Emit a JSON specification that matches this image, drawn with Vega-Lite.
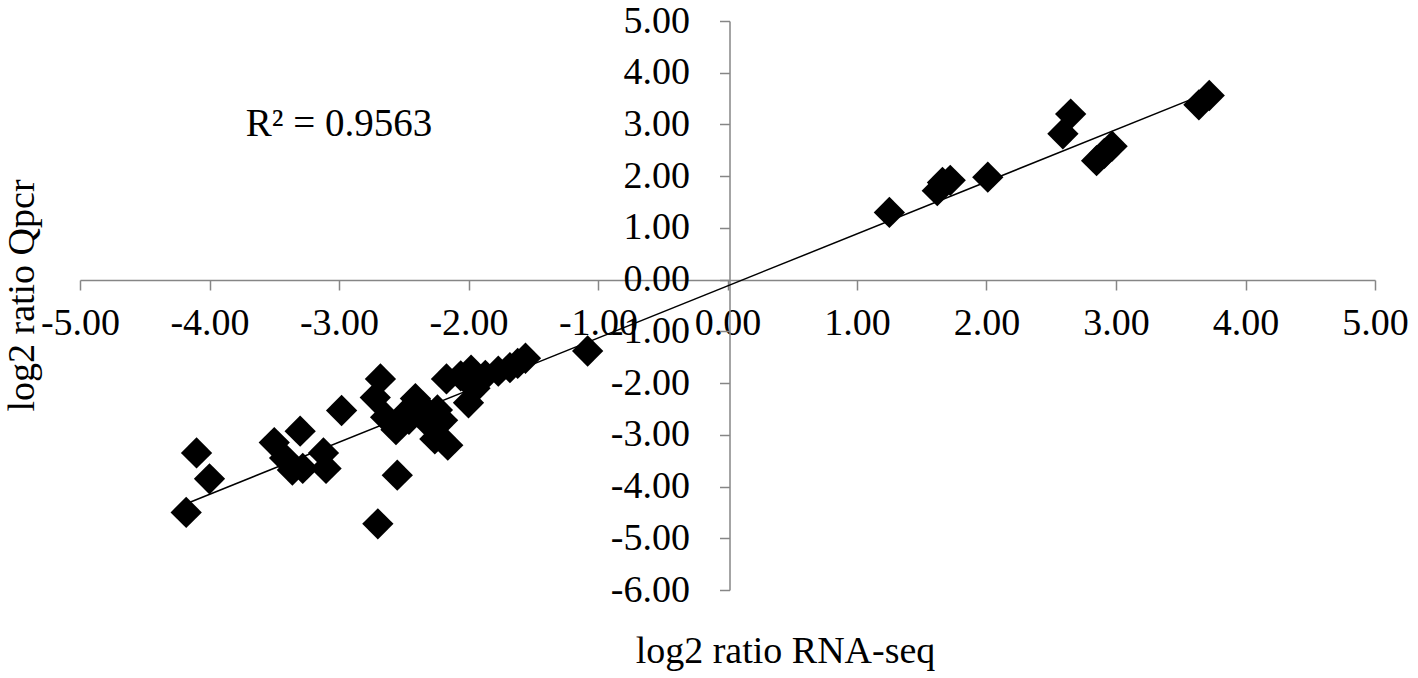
{
  "$schema": "https://vega.github.io/schema/vega-lite/v6.json",
  "width": 1295,
  "height": 569,
  "autosize": {"type": "none"},
  "padding": {"left": 80, "top": 21, "right": 43, "bottom": 88},
  "background": "white",
  "config": {"view": {"stroke": null}, "font": "Liberation Serif"},
  "data": {
    "values": [
      {"rnaseq": -4.18, "qpcr": -4.50},
      {"rnaseq": -4.10, "qpcr": -3.35},
      {"rnaseq": -4.00, "qpcr": -3.85},
      {"rnaseq": -3.50, "qpcr": -3.15},
      {"rnaseq": -3.30, "qpcr": -2.93},
      {"rnaseq": -3.42, "qpcr": -3.45},
      {"rnaseq": -3.36, "qpcr": -3.68},
      {"rnaseq": -3.28, "qpcr": -3.65},
      {"rnaseq": -3.12, "qpcr": -3.35},
      {"rnaseq": -3.10, "qpcr": -3.65},
      {"rnaseq": -2.98, "qpcr": -2.53},
      {"rnaseq": -2.70, "qpcr": -4.72},
      {"rnaseq": -2.68, "qpcr": -1.92},
      {"rnaseq": -2.72, "qpcr": -2.28},
      {"rnaseq": -2.64, "qpcr": -2.66},
      {"rnaseq": -2.56, "qpcr": -2.90},
      {"rnaseq": -2.55, "qpcr": -3.78},
      {"rnaseq": -2.50, "qpcr": -2.62},
      {"rnaseq": -2.46, "qpcr": -2.70},
      {"rnaseq": -2.41, "qpcr": -2.30},
      {"rnaseq": -2.36, "qpcr": -2.45},
      {"rnaseq": -2.34, "qpcr": -2.64},
      {"rnaseq": -2.30, "qpcr": -2.80},
      {"rnaseq": -2.24, "qpcr": -2.52},
      {"rnaseq": -2.26, "qpcr": -3.08},
      {"rnaseq": -2.16, "qpcr": -3.20},
      {"rnaseq": -2.20, "qpcr": -2.72},
      {"rnaseq": -2.17, "qpcr": -1.92},
      {"rnaseq": -2.06, "qpcr": -1.86},
      {"rnaseq": -1.98, "qpcr": -1.75},
      {"rnaseq": -2.00, "qpcr": -2.38},
      {"rnaseq": -1.95, "qpcr": -2.10},
      {"rnaseq": -1.87, "qpcr": -1.85},
      {"rnaseq": -1.77, "qpcr": -1.77},
      {"rnaseq": -1.68, "qpcr": -1.70},
      {"rnaseq": -1.62, "qpcr": -1.62},
      {"rnaseq": -1.56, "qpcr": -1.52},
      {"rnaseq": -1.08, "qpcr": -1.38},
      {"rnaseq": 1.25, "qpcr": 1.30},
      {"rnaseq": 1.62, "qpcr": 1.72},
      {"rnaseq": 1.66, "qpcr": 1.88},
      {"rnaseq": 1.72, "qpcr": 1.92},
      {"rnaseq": 2.01, "qpcr": 1.98},
      {"rnaseq": 2.59, "qpcr": 2.82},
      {"rnaseq": 2.65, "qpcr": 3.20},
      {"rnaseq": 2.85, "qpcr": 2.30},
      {"rnaseq": 2.91, "qpcr": 2.44},
      {"rnaseq": 2.97, "qpcr": 2.58},
      {"rnaseq": 3.64, "qpcr": 3.38},
      {"rnaseq": 3.72, "qpcr": 3.56}
    ]
  },
  "encoding": {
    "x": {
      "field": "rnaseq",
      "type": "quantitative",
      "scale": {"domain": [-5, 5], "nice": false, "zero": false},
      "axis": {
        "orient": "bottom",
        "offset": -310,
        "values": [-5, -4, -3, -2, -1, 0, 1, 2, 3, 4, 5],
        "labelExpr": "(datum.value < 0 ? '-' : '') + format(abs(datum.value), '.2f')",
        "labelFont": "Liberation Serif",
        "labelFontSize": 38,
        "labelColor": "black",
        "labelOverlap": false,
        "labelFlush": false,
        "labelBound": false,
        "labelPadding": 14,
        "tickSize": 10,
        "tickColor": "#868686",
        "tickWidth": 1.5,
        "domainColor": "#868686",
        "domainWidth": 1.5,
        "grid": false,
        "title": "log2 ratio RNA-seq",
        "titleFont": "Liberation Serif",
        "titleFontSize": 38,
        "titleFontWeight": "normal",
        "titleColor": "black",
        "titleX": 705,
        "titleY": 371,
        "titleBaseline": "middle",
        "titleAlign": "center"
      }
    },
    "y": {
      "field": "qpcr",
      "type": "quantitative",
      "scale": {"domain": [-6, 5], "nice": false, "zero": false},
      "axis": {
        "orient": "left",
        "offset": -649.5,
        "values": [-6, -5, -4, -3, -2, -1, 0, 1, 2, 3, 4, 5],
        "labelExpr": "(datum.value < 0 ? '-' : '') + format(abs(datum.value), '.2f')",
        "labelFont": "Liberation Serif",
        "labelFontSize": 38,
        "labelColor": "black",
        "labelOverlap": false,
        "labelFlush": false,
        "labelBound": false,
        "labelPadding": 30,
        "tickSize": 10,
        "tickColor": "#868686",
        "tickWidth": 1.5,
        "domainColor": "#868686",
        "domainWidth": 1.5,
        "grid": false,
        "title": "log2 ratio Qpcr",
        "titleFont": "Liberation Serif",
        "titleFontSize": 38,
        "titleFontWeight": "normal",
        "titleColor": "black",
        "titleX": -707.5,
        "titleY": 274,
        "titleAngle": -90,
        "titleBaseline": "middle",
        "titleAlign": "center"
      }
    }
  },
  "layer": [
    {
      "transform": [{"regression": "qpcr", "on": "rnaseq"}],
      "mark": {"type": "line", "color": "black", "strokeWidth": 1.5}
    },
    {
      "mark": {"type": "point", "shape": "diamond", "filled": true, "size": 980, "color": "black", "opacity": 1}
    },
    {
      "data": {"values": [{"rnaseq": -3, "qpcr": 3, "label": "R² = 0.9563"}]},
      "mark": {"type": "text", "font": "Liberation Serif", "fontSize": 39, "color": "black", "align": "center", "baseline": "middle"},
      "encoding": {"text": {"field": "label"}}
    }
  ]
}
